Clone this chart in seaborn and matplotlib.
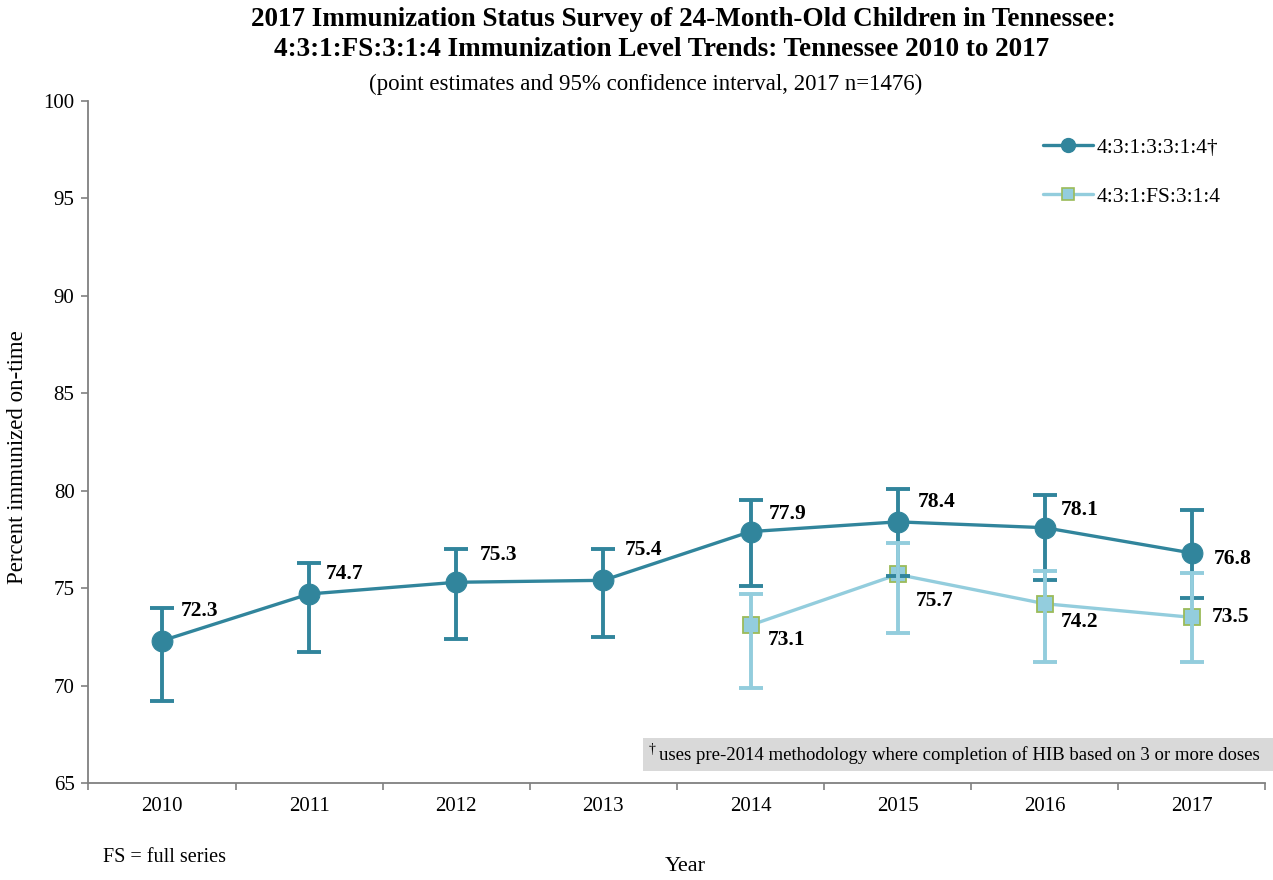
import matplotlib
matplotlib.use("Agg")
import matplotlib.pyplot as plt
from matplotlib.lines import Line2D
from matplotlib.patches import Rectangle
import numpy as np
import pandas as pd
import seaborn as sns

# ---- data -------------------------------------------------------------
years = [2010, 2011, 2012, 2013, 2014, 2015, 2016, 2017]

hib3_label = "4:3:1:3:3:1:4\u2020"
hib3_est = [72.3, 74.7, 75.3, 75.4, 77.9, 78.4, 78.1, 76.8]
hib3_low = [69.2, 71.7, 72.4, 72.5, 75.1, 75.6, 75.4, 74.5]
hib3_high = [74.0, 76.3, 77.0, 77.0, 79.5, 80.1, 79.8, 79.0]

fs_years = [2014, 2015, 2016, 2017]
fs_label = "4:3:1:FS:3:1:4"
fs_est = [73.1, 75.7, 74.2, 73.5]
fs_low = [69.9, 72.7, 71.2, 71.2]
fs_high = [74.7, 77.3, 75.9, 75.8]

y_ticks = [65, 70, 75, 80, 85, 90, 95, 100]

# ---- style ------------------------------------------------------------
sns.set_theme(style="white")
plt.rcParams["font.family"] = ["Liberation Serif", "DejaVu Serif"]
for key in ["text.color", "axes.labelcolor", "xtick.labelcolor",
            "ytick.labelcolor"]:
    plt.rcParams[key] = "black"

DARK = "#31859C"
LIGHT = "#93CDDD"
EDGE = "#9BBB59"
SPINE = "#808080"

fig = plt.figure(figsize=(12.73, 8.8), dpi=100)
ax = fig.add_axes([0.0695, 0.1102, 0.9246, 0.7752])

hib3 = pd.DataFrame({"year": years, "pct": hib3_est})
fs = pd.DataFrame({"year": fs_years, "pct": fs_est})


def ci_bars(x, est, low, high, color, z):
    est = np.asarray(est)
    yerr = [est - np.asarray(low), np.asarray(high) - est]
    ax.errorbar(x, est, yerr=yerr, fmt="none", ecolor=color,
                elinewidth=2.8, capsize=8.5, capthick=2.8, zorder=z)


# full-series line (drawn beneath the pre-2014 series)
sns.lineplot(data=fs, x="year", y="pct", ax=ax, color=LIGHT, linewidth=2.4,
             marker="s", markersize=11.5, markerfacecolor=LIGHT,
             markeredgecolor=EDGE, markeredgewidth=1.3, zorder=2)
ci_bars(fs_years, fs_est, fs_low, fs_high, LIGHT, 4)
ci_bars(years, hib3_est, hib3_low, hib3_high, DARK, 3)
sns.lineplot(data=hib3, x="year", y="pct", ax=ax, color=DARK, linewidth=2.4,
             marker="o", markersize=15, markerfacecolor=DARK,
             markeredgecolor=DARK, zorder=5)

# value labels (offsets in pixels: right, down)
hib3_offsets = [(19, -30), (17, -20), (23, -27), (21, -30),
                (18, -18), (20, -20), (16, -18), (22, 6)]
fs_offsets = [(17, 15), (18, 27), (16, 18), (20, 0)]
for x, v, (dx, dy) in zip(years, hib3_est, hib3_offsets):
    ax.annotate(f"{v:.1f}", (x, v), xytext=(dx * 0.72, -dy * 0.72),
                textcoords="offset points", ha="left", va="center",
                fontsize=15.5, fontweight="bold", color="black", zorder=6)
for x, v, (dx, dy) in zip(fs_years, fs_est, fs_offsets):
    ax.annotate(f"{v:.1f}", (x, v), xytext=(dx * 0.72, -dy * 0.72),
                textcoords="offset points", ha="left", va="center",
                fontsize=15.5, fontweight="bold", color="black", zorder=6)

# ---- axes -------------------------------------------------------------
ax.set_xlim(years[0] - 0.5, years[-1] + 0.5)
ax.set_ylim(y_ticks[0], y_ticks[-1])
ax.set_yticks(y_ticks)
ax.set_yticklabels([str(t) for t in y_ticks], fontsize=15)
ax.set_xticks([y - 0.5 for y in years] + [years[-1] + 0.5])
ax.set_xticklabels([])
ax.set_xticks(years, minor=True)
ax.set_xticklabels([str(y) for y in years], minor=True, fontsize=15)
ax.tick_params(axis="x", which="major", direction="out", length=5,
               width=1.2, color=SPINE, bottom=True)
ax.tick_params(axis="x", which="minor", length=0, pad=10)
ax.tick_params(axis="y", direction="out", length=5, width=1.2,
               color=SPINE, left=True, pad=5)
for side in ["top", "right"]:
    ax.spines[side].set_visible(False)
for side in ["left", "bottom"]:
    ax.spines[side].set_color(SPINE)
    ax.spines[side].set_linewidth(1.3)
ax.grid(False)

ax.set_xlabel("")
ax.set_ylabel("Percent immunized on-time", fontsize=16.5)
ax.yaxis.set_label_coords(-0.051, 0.478)

# legend
handles = [
    Line2D([], [], color=DARK, linewidth=2.4, marker="o", markersize=10,
           markerfacecolor=DARK, markeredgecolor=DARK),
    Line2D([], [], color=LIGHT, linewidth=2.4, marker="s", markersize=9,
           markerfacecolor=LIGHT, markeredgecolor=EDGE, markeredgewidth=1.2),
]
ax.legend(handles, [hib3_label, fs_label], loc="upper left",
          bbox_to_anchor=(0.811, 0.946), frameon=False, fontsize=15.5,
          handlelength=2.3, handletextpad=0.2, labelspacing=1.35,
          borderpad=0, borderaxespad=0)

# ---- titles & notes -----------------------------------------------------
fig.text(683 / 1273, 1 - 19 / 880,
         "2017 Immunization Status Survey of 24-Month-Old Children in Tennessee:",
         ha="center", va="center", fontsize=19.5, fontweight="bold")
fig.text(662 / 1273, 1 - 50 / 880,
         "4:3:1:FS:3:1:4 Immunization Level Trends: Tennessee 2010 to 2017",
         ha="center", va="center", fontsize=19.5, fontweight="bold")
fig.text(646 / 1273, 1 - 84 / 880,
         "(point estimates and 95% confidence interval, 2017 n=1476)",
         ha="center", va="center", fontsize=16.5)

fig.text(685 / 1273, 1 - 866 / 880, "Year", ha="center", va="center",
         fontsize=16)
fig.text(103 / 1273, 1 - 857 / 880, "FS = full series", ha="left",
         va="center", fontsize=14.5)

fig.patches.append(Rectangle((643 / 1273, 1 - 771 / 880), 630 / 1273,
                             33 / 880, transform=fig.transFigure,
                             facecolor="#D9D9D9", edgecolor="none",
                             zorder=0))
fig.text(649 / 1273, 1 - 749 / 880, "\u2020", ha="left", va="center",
         fontsize=10)
fig.text(659 / 1273, 1 - 755 / 880,
         "uses pre-2014 methodology where completion of HIB based on 3 or more doses",
         ha="left", va="center", fontsize=13.5)

fig.savefig("out.png", dpi=100)
